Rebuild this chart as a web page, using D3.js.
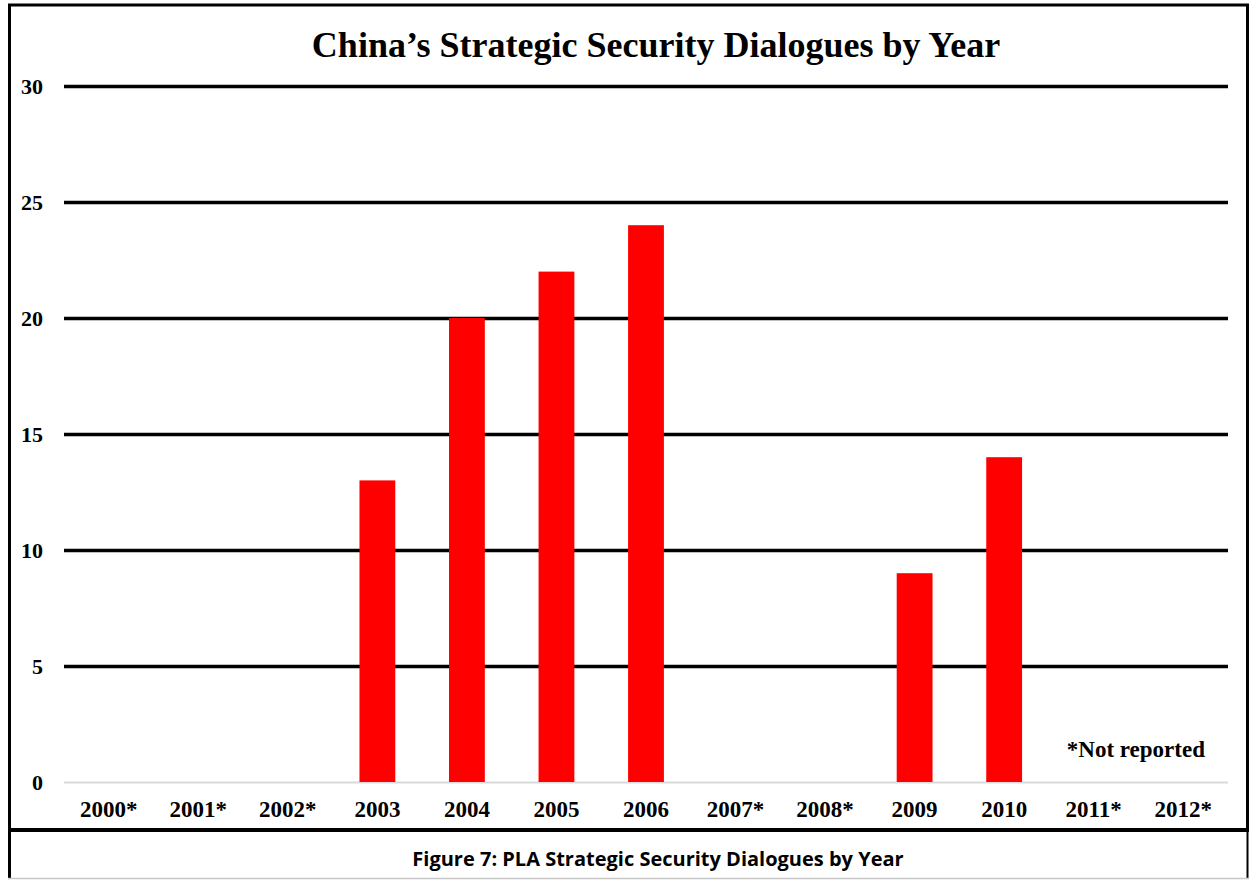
<!DOCTYPE html>
<html>
<head>
<meta charset="utf-8">
<script src="https://cdn.jsdelivr.net/npm/d3@7"></script>
<style>
  body { margin: 0; background: #fff; }
</style>
</head>
<body>
<div id="chart"></div>
<script>
var years = ['2000*', '2001*', '2002*', '2003', '2004', '2005', '2006', '2007*', '2008*', '2009', '2010', '2011*', '2012*'];
var dialogues = [0, 0, 0, 13, 20, 22, 24, 0, 0, 9, 14, 0, 0];
var yTicks = [0, 5, 10, 15, 20, 25, 30];

var width = 1252,
    height = 880;

var svg = d3.select('#chart')
    .append('svg')
    .attr('width', width)
    .attr('height', height);

var x = d3.scaleBand()
    .domain(years)
    .range([64, 1228])
    .paddingInner(0.6)
    .paddingOuter(0.3);

var y = d3.scaleLinear()
    .domain([0, 30])
    .range([782, 86]);

var serif = '"Liberation Serif", "Times New Roman", serif';

// frame
svg.append('rect')
    .attr('x', 9.5).attr('y', 5)
    .attr('width', 1238).attr('height', 825)
    .attr('fill', 'none')
    .attr('stroke', '#000')
    .attr('stroke-width', 3);

// caption box
svg.append('line')
    .attr('x1', 8).attr('x2', 1249)
    .attr('y1', 830).attr('y2', 830)
    .attr('stroke', '#000').attr('stroke-width', 4);
svg.append('line')
    .attr('x1', 9.5).attr('x2', 9.5)
    .attr('y1', 830).attr('y2', 878)
    .attr('stroke', '#000').attr('stroke-width', 3);
svg.append('line')
    .attr('x1', 1247.5).attr('x2', 1247.5)
    .attr('y1', 830).attr('y2', 878)
    .attr('stroke', '#000').attr('stroke-width', 2);
svg.append('line')
    .attr('x1', 8).attr('x2', 1249)
    .attr('y1', 878.5).attr('y2', 878.5)
    .attr('stroke', '#c8c8c8').attr('stroke-width', 1.5);

svg.append('text')
    .attr('x', 658).attr('y', 866)
    .attr('text-anchor', 'middle')
    .style('font-family', '"Open Sans", "Noto Sans", sans-serif')
    .style('font-weight', 'bold')
    .style('font-size', '20px')
    .text('Figure 7: PLA Strategic Security Dialogues by Year');

// title
svg.append('text')
    .attr('x', 656).attr('y', 57)
    .attr('text-anchor', 'middle')
    .style('font-family', serif)
    .style('font-weight', 'bold')
    .style('font-size', '36px')
    .text('China\u2019s Strategic Security Dialogues by Year');

// gridlines
var yAxis = d3.axisLeft(y)
    .tickValues(yTicks)
    .tickSize(-(1228 - 64))
    .tickFormat(d3.format('d'));

var gy = svg.append('g')
    .attr('transform', 'translate(64,0)')
    .call(yAxis);
gy.select('.domain').remove();
gy.selectAll('.tick line')
    .attr('stroke', function (d) { return d === 0 ? '#d9d9d9' : '#000'; })
    .attr('stroke-width', function (d) { return d === 0 ? 2 : 3.5; });
gy.selectAll('.tick text')
    .attr('x', -21)
    .attr('dy', '0.33em')
    .style('font-family', serif)
    .style('font-weight', 'bold')
    .style('font-size', '22px')
    .attr('fill', '#000');

// bars
svg.append('g')
    .selectAll('rect')
    .data(years)
    .enter()
    .append('rect')
    .attr('x', function (d) { return x(d); })
    .attr('y', function (d, i) { return y(dialogues[i]); })
    .attr('width', x.bandwidth())
    .attr('height', function (d, i) { return y(0) - y(dialogues[i]); })
    .attr('fill', '#ff0000');

// x labels
var xAxis = d3.axisBottom(x).tickSize(0);
var gx = svg.append('g')
    .attr('transform', 'translate(0,782)')
    .call(xAxis);
gx.select('.domain').remove();
gx.selectAll('.tick text')
    .attr('y', 35)
    .attr('dy', 0)
    .style('font-family', serif)
    .style('font-weight', 'bold')
    .style('font-size', '23px')
    .attr('fill', '#000');

// note
svg.append('text')
    .attr('x', 1205).attr('y', 757)
    .attr('text-anchor', 'end')
    .style('font-family', serif)
    .style('font-weight', 'bold')
    .style('font-size', '23px')
    .text('*Not reported');
</script>
</body>
</html>
